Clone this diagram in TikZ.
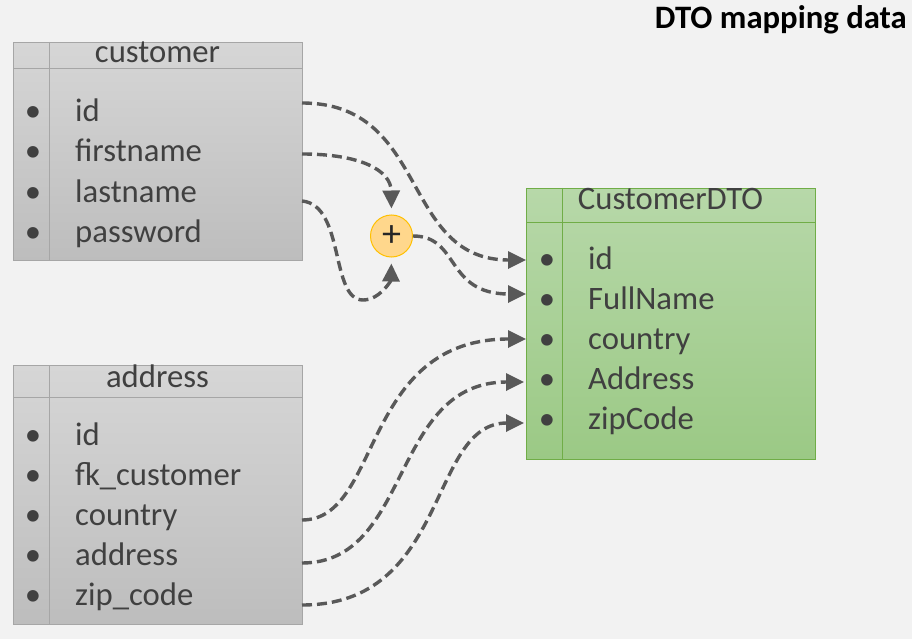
\documentclass[tikz,border=0pt]{standalone}
\usepackage{fontspec}
\setmainfont{Carlito}
\usetikzlibrary{arrows.meta}
\definecolor{pagebg}{HTML}{F2F2F2}
\definecolor{greytop}{HTML}{D6D6D6}
\definecolor{greybot}{HTML}{BDBDBD}
\definecolor{greyedge}{HTML}{A6A6A6}
\definecolor{greentop}{HTML}{B7D8A9}
\definecolor{greenbot}{HTML}{9BC985}
\definecolor{greenedge}{HTML}{70AD47}
\definecolor{txt}{HTML}{404040}
\definecolor{flow}{HTML}{595959}
\definecolor{plusfill}{HTML}{FFD78C}
\definecolor{plusedge}{HTML}{FFC000}
\tikzset{
  tablebox/.style={draw, line width=1pt, anchor=north west, inner sep=0pt},
  greytable/.style={tablebox, draw=greyedge, top color=greytop, bottom color=greybot},
  greentable/.style={tablebox, draw=greenedge, top color=greentop, bottom color=greenbot},
  label/.style={inner sep=0pt, text=txt, font=\fontsize{32.7}{40}\selectfont},
  field/.style={label, anchor=base west},
  headtext/.style={label, anchor=base},
  dot/.style={label, anchor=base},
  flowline/.style={draw=flow, line width=3.4pt, dash pattern=on 10pt off 5pt,
    -{Triangle[length=18pt,width=17pt]}},
  plusnode/.style={circle, draw=plusedge, fill=plusfill, line width=1pt,
    minimum size=42pt, inner sep=0pt, font=\fontsize{38}{40}\selectfont, text=black!85}
}
\begin{document}
\begin{tikzpicture}[x=1pt,y=-1pt]
\fill[pagebg] (0,0) rectangle (912,639);
\useasboundingbox (0,0) rectangle (912,639);

% title
\node[inner sep=0pt, anchor=base east, font=\fontsize{32.7}{40}\selectfont\bfseries, text=black]
  (title) at (907,29) {DTO mapping data};

% customer table
\node[greytable, minimum width=289pt, minimum height=218pt] (cust) at (13,42) {};
\draw[greyedge, line width=1pt] (13,69) -- (302,69);
\draw[greyedge, line width=1pt] (49,42) -- (49,260);
\node[headtext] (custhead) at (157.5,63) {customer};
\foreach \name/\txt/\yy in {cid/id/122, cfirst/firstname/162, clast/lastname/202, cpass/password/242}{
  \node[dot] (\name-dot) at (33,\yy) {•};
  \node[field] (\name) at (75,\yy) {\txt};
}

% address table
\node[greytable, minimum width=289pt, minimum height=259pt] (addr) at (13,365) {};
\draw[greyedge, line width=1pt] (13,397) -- (302,397);
\draw[greyedge, line width=1pt] (49,365) -- (49,624);
\node[headtext] (addrhead) at (157.5,387) {address};
\foreach \name/\txt/\yy in {aid/id/445, afk/fk\_customer/485, acountry/country/525, aaddr/address/565, azip/zip\_code/605}{
  \node[dot] (\name-dot) at (33,\yy) {•};
  \node[field] (\name) at (75,\yy) {\txt};
}

% CustomerDTO table
\node[greentable, minimum width=289pt, minimum height=271pt] (dto) at (526,188) {};
\draw[greenedge, line width=1pt] (526,222) -- (815,222);
\draw[greenedge, line width=1pt] (562,188) -- (562,459);
\node[headtext] (dtohead) at (670.5,209) {CustomerDTO};
\foreach \name/\txt/\yy in {did/id/269, dfull/FullName/309, dcountry/country/349, daddr/Address/389, dzip/zipCode/429}{
  \node[dot] (\name-dot) at (547,\yy) {•};
  \node[field] (\name) at (588,\yy) {\txt};
}

% merge operator
\node[plusnode] (plus) at (391.5,236) {+};

% connector ports
\coordinate (p-cid) at (302,103);
\coordinate (p-cfirst) at (302,154);
\coordinate (p-clast) at (302,201);
\coordinate (p-acountry) at (302,520);
\coordinate (p-aaddr) at (302,563);
\coordinate (p-azip) at (302,605);
\coordinate (q-did) at (526,260);
\coordinate (q-dfull) at (526,294);
\coordinate (q-dcountry) at (526,339);
\coordinate (q-daddr) at (524,382);
\coordinate (q-dzip) at (524,423);
\coordinate (m-loop) at (363,300);

% mappings
\draw[flowline] (p-cid) .. controls (430,103) and (400,260) .. (q-did);
\draw[flowline, shorten >=6pt] (p-cfirst) .. controls (360,154) and (391,170) .. (plus.north);
\draw[flowline, shorten >=6pt] (p-clast) .. controls (345,205) and (330,300) .. (m-loop)
  .. controls (380,300) and (391,280) .. (plus.south);
\draw[flowline] (plus.east) .. controls (460,236) and (445,294) .. (q-dfull);
\draw[flowline] (p-acountry) .. controls (382,520) and (360,339) .. (q-dcountry);
\draw[flowline] (p-aaddr) .. controls (412,563) and (390,382) .. (q-daddr);
\draw[flowline] (p-azip) .. controls (450,605) and (428,423) .. (q-dzip);
\end{tikzpicture}
\end{document}
